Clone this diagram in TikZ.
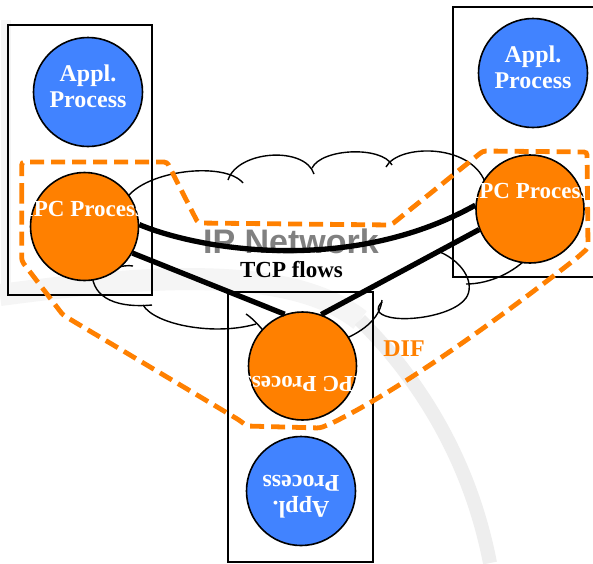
\documentclass[tikz,border=0pt]{standalone}
\usepackage{fontspec}
\setmainfont{Liberation Serif}
\newfontfamily\arialfont{Liberation Sans}
\definecolor{applblue}{RGB}{65,131,255}
\definecolor{ipcorange}{RGB}{255,128,0}
\definecolor{ipgray}{RGB}{128,128,128}
\definecolor{wmgray}{RGB}{238,238,238}
\definecolor{wmfaint}{RGB}{245,245,245}
\begin{document}
\begin{tikzpicture}[x=1pt,y=-1pt,
  box/.style={draw=black,line width=1.8pt},
  applc/.style={circle,draw=black,line width=1.6pt,fill=applblue,minimum size=109pt,inner sep=0pt},
  ipcc/.style={circle,draw=black,line width=1.6pt,fill=ipcorange,minimum size=108pt,inner sep=0pt},
  ctext/.style={text=white,font=\bfseries\fontsize{23}{26}\selectfont,align=center,inner sep=0pt},
  atext/.style={ctext,font=\bfseries\fontsize{24}{26}\selectfont},
  flow/.style={line width=5.3pt},
  cloudline/.style={line width=1.4pt},
  dif/.style={draw=ipcorange,line width=4.8pt,dash pattern=on 14pt off 7pt,rounded corners=3pt},
  wm/.style={draw=wmgray,line width=14pt}
]
\useasboundingbox (0,0) rectangle (593,563);
\clip (0,0) rectangle (593,563);
\fill[white] (0,0) rectangle (593,563);

% watermark
\draw[wm,draw=wmfaint,line width=22pt] (0,295) .. controls (150,275) and (290,265) .. (360,320);
\draw[wm] (360,320) .. controls (420,380) and (470,460) .. (490,563);
\draw[wm,draw=wmfaint,line width=10pt] (6,20) -- (6,300);

% cloud
\draw[cloudline] (126,199) .. controls (145,170) and (225,161) .. (243,183);
\draw[cloudline] (228,180) .. controls (238,150) and (305,146) .. (314,174);
\draw[cloudline] (312,168) .. controls (322,148) and (382,146) .. (392,165);
\draw[cloudline] (386,167) .. controls (398,144) and (470,143) .. (485,182);
\draw[cloudline] (530,255) .. controls (515,272) and (490,284) .. (466,284);
\draw[cloudline] (440,252) .. controls (465,263) and (475,285) .. (466,298) .. controls (452,318) and (390,325) .. (379,312) .. controls (377,308) and (379,305) .. (382,302);
\draw[cloudline] (340,341) .. controls (360,333) and (380,320) .. (382,300);
\draw[cloudline] (143,305) .. controls (155,325) and (215,336) .. (256,324);
\draw[cloudline] (246,314) .. controls (252,318) and (258,324) .. (266,334);
\draw[cloudline] (92,272) .. controls (92,300) and (120,308) .. (152,305);
\draw[cloudline] (115,268) .. controls (122,266) and (128,265) .. (133,266);

% boxes
\draw[box] (8,25) rectangle (152,295);
\draw[box] (453,7) rectangle (600,277);
\draw[box] (228,292) rectangle (373,562);

\node[font=\arialfont\bfseries\fontsize{34}{34}\selectfont,text=ipgray,inner sep=0pt] (ipn) at (291,241.5) {IP Network};

% circles
\node[applc] (la) at (88,92) {};
\node[ipcc] (lp) at (84.5,226.5) {};
\node[applc] (ra) at (533,73) {};
\node[ipcc] (rp) at (530,209) {};
\node[ipcc] (bp) at (302.5,366) {};
\node[applc] (ba) at (301,491) {};

% TCP flows
\draw[flow] (lp.2) .. controls (200,250) and (350,275) .. (rp.176);
\draw[flow] (lp.-29) -- (bp.109);
\draw[flow] (rp.202) -- (bp.70);

% circle texts
\node[atext] (la-t) at (88,86) {Appl.\\Process};
\node[ctext] (lp-t) at (84.5,208.5) {IPC Process};
\node[atext] (ra-t) at (533,67) {Appl.\\Process};
\node[ctext] (rp-t) at (530,191) {IPC Process};
\node[ctext,rotate=180] (bp-t) at (302.5,384) {IPC Process};
\node[atext,rotate=180] (ba-t) at (301,497) {Appl.\\Process};

\node[font=\bfseries\fontsize{23}{23}\selectfont,inner sep=0pt] (tcp) at (291.5,269.5) {TCP flows};
\node[font=\bfseries\fontsize{24}{24}\selectfont,text=ipcorange,inner sep=0pt] (difl) at (404,349) {DIF};

% DIF boundary
\draw[dif] (21.7,200) -- (21.7,162) -- (167,162) -- (198,223) -- (391,225) -- (483,151) -- (587,152) -- (588,248) -- (578,257) .. controls (500,318) and (400,390) .. (330,424) -- (320,428) -- (247,426) -- (239,420) -- (63,315) -- (21.7,261) -- cycle;
\end{tikzpicture}
\end{document}
